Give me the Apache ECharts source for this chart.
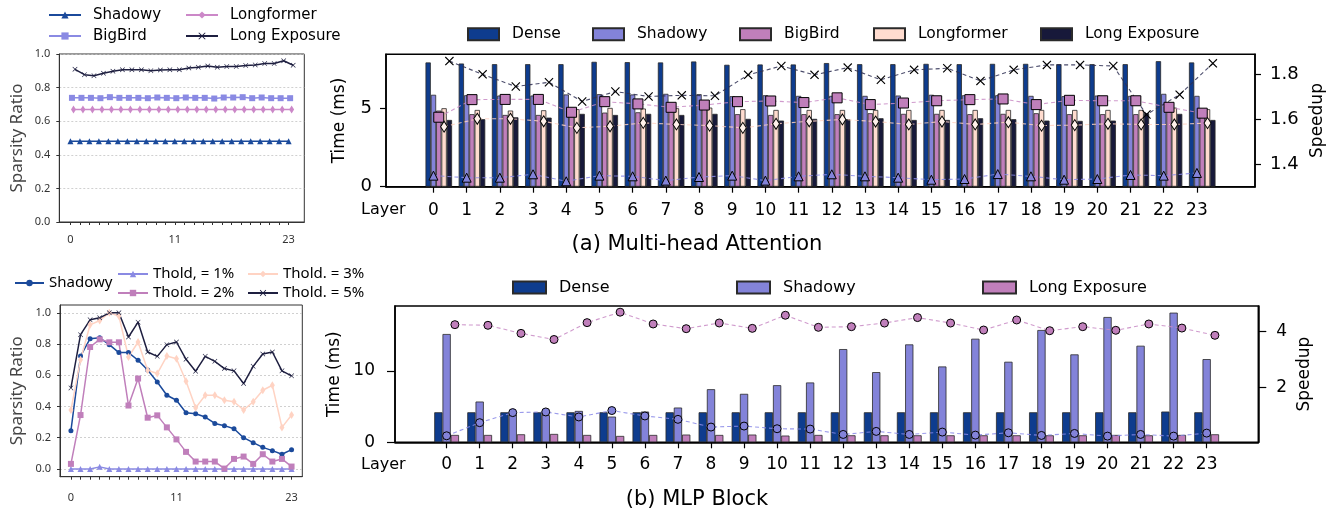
<!DOCTYPE html>
<html><head><meta charset="utf-8">
<script src="https://cdn.jsdelivr.net/npm/echarts@6.0.0/dist/echarts.min.js"></script>
<style>html,body{margin:0;padding:0;background:#fff}#c{width:1343px;height:519px}</style>
</head><body><div id="c"></div>
<script>
// ---------------- DATA ----------------
const layers = [0,1,2,3,4,5,6,7,8,9,10,11,12,13,14,15,16,17,18,19,20,21,22,23];
const smallTickLabels = [0, 11, 23];
const ratioTicks = [0, 0.2, 0.4, 0.6, 0.8, 1.0];
const timeTicksMHA = [0, 5];
const timeTicksMLP = [0, 10];
const speedTicksMHA = [1.4, 1.6, 1.8];
const speedTicksMLP = [2, 4];

// top-left: sparsity ratio per layer
const tlNames = ['Shadowy', 'BigBird', 'Longformer', 'Long Exposure'];
const tlShadowy = [0.48,0.48,0.48,0.48,0.48,0.48,0.48,0.48,0.48,0.48,0.48,0.48,0.48,0.48,0.48,0.48,0.48,0.48,0.48,0.48,0.48,0.48,0.48,0.48];
const tlBigBird = [0.739,0.739,0.739,0.737,0.743,0.739,0.739,0.739,0.737,0.741,0.739,0.737,0.741,0.739,0.739,0.735,0.741,0.741,0.743,0.737,0.741,0.737,0.737,0.737];
const tlLongformer = [0.67,0.67,0.67,0.67,0.67,0.67,0.67,0.67,0.67,0.67,0.67,0.67,0.67,0.67,0.67,0.67,0.67,0.67,0.67,0.67,0.67,0.67,0.67,0.67];
const tlLongExp = [0.909,0.877,0.871,0.885,0.897,0.906,0.906,0.906,0.901,0.905,0.906,0.906,0.917,0.921,0.929,0.921,0.925,0.925,0.931,0.935,0.943,0.943,0.960,0.933];

// bottom-left: sparsity ratio per layer with thresholds
const blNames = ['Shadowy', 'Thold, = 1%', 'Thold. = 2%', 'Thold. = 3%', 'Thold. = 5%'];
const blShadowy = [0.245,0.723,0.834,0.840,0.796,0.745,0.745,0.696,0.634,0.557,0.472,0.440,0.360,0.353,0.332,0.291,0.277,0.257,0.200,0.168,0.138,0.117,0.094,0.123];
const blT1 = [0,0,0,0.013,0,0,0,0,0,0,0,0,0,0,0,0,0,0,0,0,0,0,0,0];
const blT2 = [0.032,0.345,0.781,0.830,0.811,0.811,0.406,0.579,0.328,0.343,0.266,0.189,0.109,0.047,0.047,0.047,0.002,0.064,0.079,0.032,0.094,0.047,0.064,0.015];
const blT3 = [0.377,0.700,0.923,0.951,1.000,0.979,0.717,0.813,0.632,0.611,0.723,0.706,0.562,0.391,0.472,0.472,0.440,0.430,0.377,0.430,0.504,0.536,0.266,0.345];
const blT5 = [0.519,0.860,0.955,0.968,1.000,1.000,0.845,0.940,0.749,0.721,0.796,0.813,0.702,0.626,0.721,0.689,0.643,0.628,0.547,0.657,0.736,0.749,0.628,0.596];

// (a) Multi-head Attention: time (ms) bars
const mhaNames = ['Dense', 'Shadowy', 'BigBird', 'Longformer', 'Long Exposure'];
const mhaDense = [7.95,7.88,7.84,7.84,7.84,7.99,7.97,7.95,8.01,7.80,7.82,7.82,7.91,7.84,7.84,7.86,7.84,7.86,7.86,7.84,7.84,7.84,8.03,7.95];
const mhaShadowy = [5.88,5.85,5.83,5.83,5.90,5.92,5.90,5.94,5.92,5.79,5.85,5.81,5.81,5.81,5.83,5.88,5.85,5.85,5.81,5.79,5.83,5.81,5.94,5.81];
const mhaBigBird = [4.87,4.64,4.59,4.59,4.96,4.74,4.76,4.96,5.00,4.64,4.59,4.64,4.64,4.70,4.66,4.66,4.64,4.66,4.70,4.64,4.64,4.64,4.91,4.70];
const mhaLongformer = [5.02,4.91,4.87,4.89,4.96,5.04,5.00,5.02,5.06,4.96,4.91,4.91,4.91,4.91,4.91,4.91,4.91,4.91,4.91,4.91,4.91,4.91,5.06,4.96];
const mhaLongExp = [4.27,4.32,4.44,4.42,4.66,4.59,4.66,4.59,4.66,4.34,4.23,4.34,4.32,4.38,4.27,4.27,4.38,4.32,4.23,4.21,4.23,4.70,4.66,4.27];
// (a) speedup lines
const mhaSpShadowy = [1.349,1.340,1.340,1.355,1.324,1.349,1.346,1.327,1.343,1.349,1.327,1.346,1.355,1.346,1.340,1.331,1.334,1.356,1.346,1.331,1.334,1.352,1.349,1.361];
const mhaSpBigBird = [1.608,1.686,1.687,1.687,1.630,1.677,1.667,1.652,1.662,1.677,1.680,1.673,1.694,1.664,1.671,1.681,1.686,1.689,1.664,1.683,1.681,1.681,1.652,1.626];
const mhaSpLongformer = [1.566,1.601,1.601,1.590,1.561,1.568,1.583,1.576,1.571,1.561,1.579,1.590,1.598,1.589,1.576,1.589,1.576,1.586,1.571,1.573,1.579,1.576,1.576,1.582];
const mhaSpLongExp = [1.857,1.798,1.744,1.763,1.678,1.722,1.700,1.705,1.703,1.796,1.835,1.796,1.828,1.774,1.818,1.825,1.769,1.818,1.840,1.840,1.835,1.620,1.708,1.847];

// (b) MLP Block: time (ms) bars
const mlpNames = ['Dense', 'Shadowy', 'Long Exposure'];
const mlpDense = [4.2,4.2,4.2,4.2,4.2,4.2,4.2,4.2,4.2,4.2,4.2,4.2,4.2,4.2,4.2,4.2,4.2,4.2,4.2,4.2,4.2,4.2,4.3,4.2];
const mlpShadowy = [15.15,5.70,3.90,3.80,4.39,3.60,4.30,4.86,7.43,6.78,7.99,8.37,13.04,9.82,13.70,10.61,14.49,11.27,15.71,12.30,17.53,13.51,18.14,11.64];
const mlpLongExp = [1.03,1.03,1.12,1.17,1.03,0.89,1.03,1.08,1.03,1.08,0.94,1.03,0.98,0.98,0.98,0.98,0.98,0.98,0.98,0.98,1.03,0.98,1.03,1.12];
// (b) speedup lines
const mlpSpShadowy = [0.265,0.735,1.096,1.120,0.940,1.170,0.976,0.855,0.578,0.614,0.518,0.506,0.313,0.422,0.313,0.398,0.289,0.373,0.277,0.349,0.253,0.313,0.253,0.361];
const mlpSpLongExp = [4.253,4.229,3.940,3.720,4.325,4.700,4.277,4.108,4.313,4.120,4.590,4.157,4.180,4.310,4.506,4.310,4.060,4.420,4.036,4.180,4.050,4.277,4.130,3.870];

// ---------------- STYLE / LAYOUT ----------------
const DV = 'DejaVu Sans', NS = 'Noto Sans';
const C = {dense:'#0e3c8e', shadowy:'#8383d9', bigbird:'#c07fbb', longformer:'#ffdccf', longexp:'#17193a',
           sBlue:'#1b4a9b', sLav:'#8a8ae3', sPink:'#cc88c8', sPeach:'#ffd3c3', sNavy:'#1e1f40'};
const XPATH = 'path://M0,0.9L0.9,0L5,4.1L9.1,0L10,0.9L5.9,5L10,9.1L9.1,10L5,5.9L0.9,10L0,9.1L4.1,5Z';

const TL = {left:59.3, top:54, width:245, height:168, xmin:-1.174, xmax:24.654};
const BL = {left:60, top:305, width:242.3, height:171.7, xmin:-1.14, xmax:24.12};
const TR = {left:386, top:54.3, width:869, height:132.4, xmin:-1.43, xmax:24.75, ymax:8.47, smin:1.30, smax:1.887};
const BR = {left:395, top:306, width:863.3, height:136.3, xmin:-1.5625, xmax:24.5625, ymax:19.07, smin:0.031, smax:4.922};
const trUnit = TR.width / (TR.xmax - TR.xmin);
const brUnit = BR.width / (BR.xmax - BR.xmin);
const TRB = {left: TR.left + (0 - TR.xmin + 0.16 - 0.5) * trUnit, top: TR.top, width: 24 * trUnit, height: TR.height};
const BRB = {left: BR.left + (0 - BR.xmin - 0.5) * brUnit, top: BR.top, width: 24 * brUnit, height: BR.height};

function pts(vals, off) { return vals.map((v, i) => [layers[i] + off, v]); }
function grid(g, show) {
  return {left:g.left, top:g.top, width:g.width, height:g.height, containLabel:false, outerBoundsMode:'none',
          show: !!show, borderColor: show ? show.c : 'transparent', borderWidth: show ? show.w : 0, backgroundColor:'transparent'};
}
const lblFmt = n => n.slice(n.indexOf('|') + 1);

const chart = echarts.init(document.getElementById('c'), null, {renderer:'canvas'});

const smallAxisX = (gi, g) => ({
  type:'value', gridIndex:gi, min:g.xmin, max:g.xmax,
  axisLine:{show:true, onZero:false, lineStyle:{color:'#333', width:1}},
  axisTick:{show:true, customValues:layers, length:3, lineStyle:{color:'#333', width:1}},
  axisLabel:{show:true, customValues:smallTickLabels, fontSize:11, fontFamily:NS, color:'#333', margin: gi === 0 ? 12 : 16},
  splitLine:{show:false}
});
const smallAxisY = (gi, g, min, max) => ({
  type:'value', gridIndex:gi, min:min, max:max,
  axisLine:{show:true, onZero:false, lineStyle:{color:'#333', width:1}},
  axisTick:{show:true, customValues:ratioTicks, length:3, lineStyle:{color:'#333'}},
  axisLabel:{show:true, customValues:ratioTicks, formatter: v => v.toFixed(1), fontSize:11, fontFamily:NS, color:'#333', margin:9},
  splitLine:{show:true, lineStyle:{type:[2,2], color:'#c4c4c4', width:0.8}},
  name:'Sparsity Ratio', nameLocation:'middle', nameGap:34, nameRotate:90, nameMoveOverlap:false,
  nameTextStyle:{fontFamily:NS, fontSize:17, color:'#444'}
});

const bigX = (gi, g, margin) => ({
  type:'value', gridIndex:gi, min:g.xmin, max:g.xmax,
  axisLine:{show:true, onZero:false, lineStyle:{color:'#000', width:1.5}},
  axisTick:{show:true, customValues:layers, length:6, lineStyle:{color:'#000', width:1.2}},
  axisLabel:{show:true, customValues:layers, fontSize:17, fontFamily:DV, color:'#000', margin:margin},
  splitLine:{show:false}
});
const bigY = (gi, pos, min, max, ticks, fmt, fs, margin, tl, name, gap) => ({
  type:'value', gridIndex:gi, position:pos, min:min, max:max,
  axisLine:{show:true, onZero:false, lineStyle:{color:'#000', width:1.5}},
  axisTick:{show:true, customValues:ticks, length:tl, lineStyle:{color:'#000', width:1.2}},
  axisLabel:{customValues:ticks, formatter:fmt, fontSize:fs, fontFamily:DV, color:'#000', margin:margin},
  splitLine:{show:false},
  name:name, nameLocation:'middle', nameGap:gap, nameRotate:90, nameMoveOverlap:false,
  nameTextStyle:{fontFamily:DV, fontSize:17, color:'#000'}
});
const hiddenCat = gi => ({type:'category', gridIndex:gi, data:layers, show:false, boundaryGap:true});
const hiddenVal = (gi, max) => ({type:'value', gridIndex:gi, min:0, max:max, show:false});

function barSeries(name, xi, yi, data, color, bw) {
  return {type:'bar', name:name, xAxisIndex:xi, yAxisIndex:yi, data:data, barWidth:bw, barGap:'0%',
          itemStyle:{color:color, borderColor:'#2a2a2a', borderWidth:0.8}, z:2, silent:true, animation:false};
}
function smallLine(name, xi, yi, data, color, symbol, size) {
  return {type:'line', name:name, xAxisIndex:xi, yAxisIndex:yi, data:data, symbol:symbol, symbolSize:size,
          showSymbol:true, itemStyle:{color:color, borderWidth:0}, lineStyle:{color:color, width:1.5},
          z:3, silent:true, animation:false};
}
function spLine(name, xi, yi, data, color, lineColor, symbol, size, border) {
  return {type:'line', name:name, xAxisIndex:xi, yAxisIndex:yi, data:data, symbol:symbol, symbolSize:size,
          showSymbol:true, itemStyle:{color:color, borderColor:'#000', borderWidth:border},
          lineStyle:{color:lineColor, width:1.1, type:[4,3], opacity:0.85}, z:4, silent:true, animation:false};
}
function legendItem(name, left, cy, iw, ih, fs, font, pad, icon) {
  const h = Math.max(fs, ih);
  const l = {data:[name], left:left, top:cy - h / 2, padding:0, itemGap:0, itemWidth:iw, itemHeight:ih,
             selectedMode:false, formatter:lblFmt,
             textStyle:{fontFamily:font, fontSize:fs, color:'#000', padding:[0,0,0,pad]}};
  if (icon) l.icon = icon;
  return l;
}

const trBW = 0.16 * trUnit, brBW = 0.25 * brUnit;
const f1 = v => v.toFixed(1), f0 = v => String(Math.round(v));

const option = {
  animation:false,
  backgroundColor:'#fff',
  grid:[
    grid(TL, {c:'#333', w:1}),
    grid(BL, {c:'#333', w:1}),
    grid(TR, {c:'#000', w:1.5}),
    grid(TRB),
    grid(BR, {c:'#000', w:1.5}),
    grid(BRB)
  ],
  xAxis:[
    smallAxisX(0, TL),
    smallAxisX(1, BL),
    bigX(2, TR, 15),
    hiddenCat(3),
    bigX(4, BR, 14),
    hiddenCat(5)
  ],
  yAxis:[
    smallAxisY(0, TL, 0, 1),
    smallAxisY(1, BL, -0.05, 1.05),
    bigY(2, 'left', 0, TR.ymax, timeTicksMHA, f0, 18, 14, 6, 'Time (ms)', 38),
    bigY(2, 'right', TR.smin, TR.smax, speedTicksMHA, f1, 18, 15, 6, 'Speedup', 54),
    hiddenVal(3, TR.ymax),
    bigY(4, 'left', 0, BR.ymax, timeTicksMLP, f0, 17, 20, 8, 'Time (ms)', 52),
    bigY(4, 'right', BR.smin, BR.smax, speedTicksMLP, f0, 17, 18, 8, 'Speedup', 38),
    hiddenVal(5, BR.ymax)
  ],
  legend:[
    legendItem('tl|' + tlNames[0], 48, 15, 32, 9, 15, DV, 7),
    legendItem('tl|' + tlNames[1], 48, 36, 32, 9, 15, DV, 7),
    legendItem('tl|' + tlNames[2], 185, 15, 32, 9, 15, DV, 7),
    legendItem('tl|' + tlNames[3], 185, 36, 32, 9, 15, DV, 7),
    legendItem('bl|' + blNames[0], 14, 283, 29, 8, 15, NS, 0),
    legendItem('bl|' + blNames[1], 117, 274, 30, 8, 15, NS, 0),
    legendItem('bl|' + blNames[2], 117, 293, 30, 8, 15, NS, 0),
    legendItem('bl|' + blNames[3], 247, 274, 30, 8, 15, NS, 0),
    legendItem('bl|' + blNames[4], 247, 293, 30, 8, 15, NS, 0),
    legendItem('mha|' + mhaNames[0], 467, 34, 31, 12, 15.5, DV, 8, 'rect'),
    legendItem('mha|' + mhaNames[1], 592, 34, 31, 12, 15.5, DV, 8, 'rect'),
    legendItem('mha|' + mhaNames[2], 739, 34, 31, 12, 15.5, DV, 8, 'rect'),
    legendItem('mha|' + mhaNames[3], 873, 34, 31, 12, 15.5, DV, 8, 'rect'),
    legendItem('mha|' + mhaNames[4], 1040, 34, 31, 12, 15.5, DV, 8, 'rect'),
    legendItem('mlp|' + mlpNames[0], 512, 287.5, 33, 12, 16, DV, 8, 'rect'),
    legendItem('mlp|' + mlpNames[1], 736, 287.5, 33, 12, 16, DV, 8, 'rect'),
    legendItem('mlp|' + mlpNames[2], 982, 287.5, 33, 12, 16, DV, 8, 'rect')
  ],
  series:[
    // top-left
    smallLine('tl|' + tlNames[0], 0, 0, pts(tlShadowy, 0), C.sBlue, 'triangle', 6),
    smallLine('tl|' + tlNames[1], 0, 0, pts(tlBigBird, 0.16), C.sLav, 'rect', 6),
    smallLine('tl|' + tlNames[2], 0, 0, pts(tlLongformer, 0.32), C.sPink, 'diamond', [5, 8]),
    smallLine('tl|' + tlNames[3], 0, 0, pts(tlLongExp, 0.48), C.sNavy, XPATH, 5),
    // bottom-left
    smallLine('bl|' + blNames[0], 1, 1, pts(blShadowy, 0), C.sBlue, 'circle', 5),
    smallLine('bl|' + blNames[1], 1, 1, pts(blT1, 0), C.sLav, 'triangle', 6),
    smallLine('bl|' + blNames[2], 1, 1, pts(blT2, 0), C.bigbird, 'rect', 6),
    smallLine('bl|' + blNames[3], 1, 1, pts(blT3, 0), C.sPeach, 'diamond', [5, 8]),
    smallLine('bl|' + blNames[4], 1, 1, pts(blT5, 0), C.sNavy, XPATH, 5),
    // (a) bars
    barSeries('mha|' + mhaNames[0], 3, 4, mhaDense, C.dense, trBW),
    barSeries('mha|' + mhaNames[1], 3, 4, mhaShadowy, C.shadowy, trBW),
    barSeries('mha|' + mhaNames[2], 3, 4, mhaBigBird, C.bigbird, trBW),
    barSeries('mha|' + mhaNames[3], 3, 4, mhaLongformer, C.longformer, trBW),
    barSeries('mha|' + mhaNames[4], 3, 4, mhaLongExp, C.longexp, trBW),
    // (a) speedup
    spLine('mhasp|Shadowy', 2, 3, pts(mhaSpShadowy, 0), C.shadowy, '#8a8ae8', 'triangle', 9, 1),
    spLine('mhasp|BigBird', 2, 3, pts(mhaSpBigBird, 0.16), C.bigbird, '#c88ac4', 'rect', 10, 1),
    spLine('mhasp|Longformer', 2, 3, pts(mhaSpLongformer, 0.32), '#fff1ea', '#ffd2c2', 'diamond', [7, 11], 1),
    spLine('mhasp|Long Exposure', 2, 3, pts(mhaSpLongExp, 0.48), '#000', '#2d2e52', XPATH, 9, 0),
    // (b) bars
    barSeries('mlp|' + mlpNames[0], 5, 7, mlpDense, C.dense, brBW),
    barSeries('mlp|' + mlpNames[1], 5, 7, mlpShadowy, C.shadowy, brBW),
    barSeries('mlp|' + mlpNames[2], 5, 7, mlpLongExp, C.bigbird, brBW),
    // (b) speedup
    spLine('mlpsp|Shadowy', 4, 6, pts(mlpSpShadowy, 0), C.shadowy, '#8a8ae8', 'circle', 8, 1),
    spLine('mlpsp|Long Exposure', 4, 6, pts(mlpSpLongExp, 0.25), C.bigbird, '#c88ac4', 'circle', 8, 1)
  ],
  graphic:[
    {type:'text', x:361, y:210, style:{text:'Layer', font:'16px "DejaVu Sans"', fill:'#000', align:'left', verticalAlign:'middle'}},
    {type:'text', x:361, y:465, style:{text:'Layer', font:'16px "DejaVu Sans"', fill:'#000', align:'left', verticalAlign:'middle'}},
    {type:'text', x:697, y:245, style:{text:'(a) Multi-head Attention', font:'21px "DejaVu Sans"', fill:'#000', align:'center', verticalAlign:'middle'}},
    {type:'text', x:697, y:500, style:{text:'(b) MLP Block', font:'21px "DejaVu Sans"', fill:'#000', align:'center', verticalAlign:'middle'}}
  ]
};
chart.setOption(option);
</script>
</body></html>
